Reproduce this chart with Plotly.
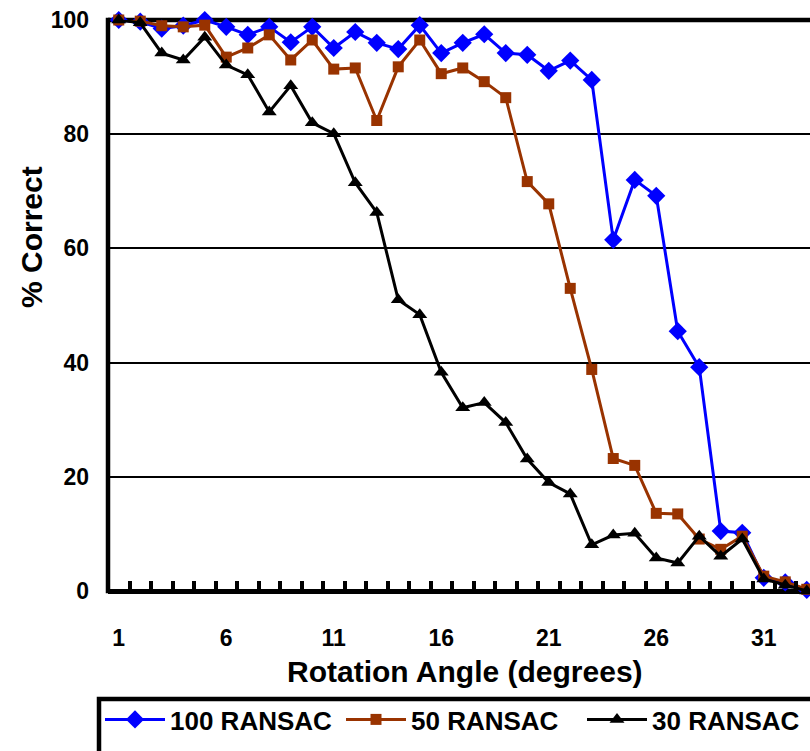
import plotly.graph_objects as go

angles = list(range(1, 34))
ransac100 = [100, 99.7, 98.5, 99.0, 100, 98.8, 97.4, 98.8, 96.1, 98.8, 95.1, 97.9, 96.0,
             94.9, 99.1, 94.2, 96.0, 97.5, 94.2, 93.9, 91.1, 92.9, 89.5, 61.5, 72.0, 69.2,
             45.5, 39.2, 10.5, 10.2, 2.3, 1.5, 0.2]
ransac50 = [100, 99.8, 99.0, 98.8, 99.1, 93.5, 95.1, 97.4, 93.0, 96.5, 91.4, 91.6, 82.4,
            91.8, 96.5, 90.6, 91.6, 89.2, 86.4, 71.7, 67.8, 53.0, 38.8, 23.2, 22.0, 13.6,
            13.5, 9.1, 7.3, 9.6, 2.6, 1.6, 0.3]
ransac30 = [100, 99.5, 94.2, 93.0, 97.0, 92.1, 90.4, 83.9, 88.5, 82.0, 80.1, 71.5, 66.3,
            51.0, 48.4, 38.3, 32.1, 33.0, 29.5, 23.1, 19.0, 17.0, 8.1, 9.8, 10.1, 5.8,
            4.9, 9.6, 6.1, 9.1, 2.1, 1.0, 0.0]

series_names = ["100 RANSAC", "50 RANSAC", "30 RANSAC"]
series_colors = ["#0000FF", "#993300", "#000000"]
series_symbols = ["diamond", "square", "triangle-up"]
series_sizes = [14, 11, 13]

x_tick_vals = [1, 6, 11, 16, 21, 26, 31]
x_tick_text = ["1", "6", "11", "16", "21", "26", "31"]
y_tick_vals = [0, 20, 40, 60, 80, 100]
y_tick_text = ["0", "20", "40", "60", "80", "100"]

FONT = "Arial, Liberation Sans, sans-serif"

fig = go.Figure()
for name, vals, col, sym, sz in zip(series_names, [ransac100, ransac50, ransac30],
                                    series_colors, series_symbols, series_sizes):
    fig.add_trace(go.Scatter(
        x=angles, y=vals, name=name, mode="lines+markers",
        line=dict(color=col, width=3),
        marker=dict(symbol=sym, size=sz, color=col, line=dict(width=0)),
        cliponaxis=False,
    ))

W, H = 810, 751
ML, MR, MT, MB = 108, 0, 20, 160
px_per_unit = 21.5
plot_w = W - ML - MR
plot_h = H - MT - MB
x_start = 0.5
x_end = x_start + plot_w / px_per_unit


def px_to_paper_x(px):
    return (px - ML) / plot_w


def py_to_paper_y(py):
    return (H - MB - py) / plot_h


fig.update_layout(
    width=W, height=H,
    margin=dict(l=ML, r=MR, t=MT, b=MB, pad=0, autoexpand=False),
    paper_bgcolor="white", plot_bgcolor="white",
    font=dict(family=FONT, color="black"),
    showlegend=True,
    legend=dict(
        orientation="h", x=px_to_paper_x(100), xanchor="left",
        y=py_to_paper_y(696), yanchor="top",
        font=dict(family=FONT, size=26, color="black", weight="bold"),
        bgcolor="rgba(0,0,0,0)", borderwidth=0,
        entrywidth=166, entrywidthmode="pixels", itemwidth=60,
        tracegroupgap=0,
    ),
    xaxis=dict(
        range=[x_start, x_end], showgrid=False, zeroline=False, showline=False,
        tickmode="array", tickvals=x_tick_vals, ticktext=x_tick_text, ticks="",
        tickfont=dict(family=FONT, size=23, color="black", weight="bold"),
        ticklabelstandoff=31,
        minor=dict(tickmode="array", tickvals=[a + 0.5 for a in angles[:-1]],
                   ticks="inside", ticklen=10, tickwidth=4, tickcolor="black",
                   showgrid=False),
    ),
    yaxis=dict(
        range=[0, 100], showgrid=True, gridcolor="black", gridwidth=1.8,
        zeroline=True, zerolinecolor="black", zerolinewidth=4.5,
        showline=False, tickmode="array", tickvals=y_tick_vals, ticktext=y_tick_text,
        ticks="", tickfont=dict(family=FONT, size=23, color="black", weight="bold"),
        ticklabelstandoff=18,
    ),
)

# frame lines (top border and left axis)
fig.add_shape(type="line", xref="paper", yref="paper", x0=0, x1=1.02, y0=1, y1=1,
              line=dict(color="black", width=4.5), layer="below")
fig.add_shape(type="line", xref="paper", yref="paper", x0=0, x1=0, y0=-0.004, y1=1.004,
              line=dict(color="black", width=4.5), layer="above")

# legend frame (cut off at the right and bottom like the reference)
fig.add_shape(type="rect", xref="paper", yref="paper",
              x0=px_to_paper_x(99), x1=px_to_paper_x(830),
              y0=py_to_paper_y(770), y1=py_to_paper_y(699),
              line=dict(color="black", width=4.5), fillcolor="rgba(0,0,0,0)")

fig.add_annotation(text="% Correct", xref="paper", yref="paper",
                   x=px_to_paper_x(31), y=py_to_paper_y(237), textangle=-90,
                   showarrow=False, xanchor="center", yanchor="middle",
                   font=dict(family=FONT, size=30, color="black", weight="bold"))
fig.add_annotation(text="Rotation Angle (degrees)", xref="paper", yref="paper",
                   x=px_to_paper_x(465), y=py_to_paper_y(671),
                   showarrow=False, xanchor="center", yanchor="middle",
                   font=dict(family=FONT, size=30, color="black", weight="bold"))

fig.write_html("out.html")
